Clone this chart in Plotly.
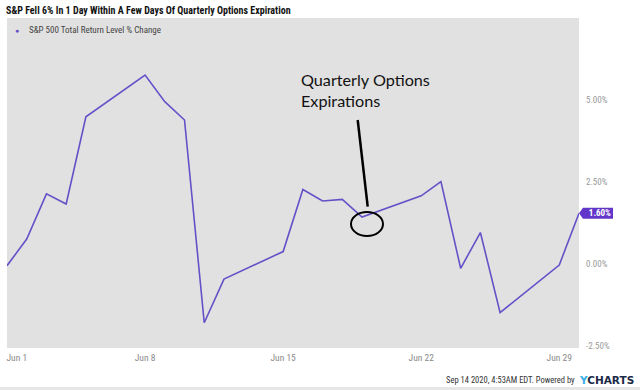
import plotly.graph_objects as go

# ---- data ----
dates = ["2020-06-01", "2020-06-02", "2020-06-03", "2020-06-04", "2020-06-05",
         "2020-06-08", "2020-06-09", "2020-06-10", "2020-06-11", "2020-06-12",
         "2020-06-15", "2020-06-16", "2020-06-17", "2020-06-18", "2020-06-19",
         "2020-06-22", "2020-06-23", "2020-06-24", "2020-06-25", "2020-06-26",
         "2020-06-29", "2020-06-30"]
pct_change = [0.00, 0.81, 2.19, 1.88, 4.54,
              5.81, 5.00, 4.44, -1.74, -0.41,
              0.43, 2.32, 1.97, 2.02, 1.48,
              2.13, 2.56, -0.08, 1.01, -1.43,
              0.02, 1.60]
series_name = "S&P 500 Total Return Level % Change"
title_text = "S&P Fell 6% In 1 Day Within A Few Days Of Quarterly Options Expiration"
x_tick_vals = ["2020-06-01 12:00", "2020-06-08", "2020-06-15", "2020-06-22", "2020-06-29"]
x_tick_text = ["Jun 1", "Jun 8", "Jun 15", "Jun 22", "Jun 29"]
y_tick_vals = [-2.5, 0.0, 2.5, 5.0]
y_tick_text = ["-2.50%", "0.00%", "2.50%", "5.00%"]
callout_text = "Quarterly Options<br>Expirations"
footer_text = "Sep 14 2020, 4:53AM EDT. Powered by"

LINE = "#6650c8"
BOX = "#6236c9"
NARROW = "Liberation Sans Narrow, Roboto Condensed, Arial Narrow, sans-serif"

fig = go.Figure()
fig.add_trace(go.Scatter(
    x=dates, y=pct_change, mode="lines", name=series_name,
    line=dict(color=LINE, width=1.6), showlegend=False,
))

fig.update_layout(
    width=640, height=390,
    margin=dict(l=7, r=61, t=18, b=42),
    paper_bgcolor="white",
    plot_bgcolor="#e1e1e1",
    title=dict(text=f"<b>{title_text}</b>", x=6/640, xref="container", xanchor="left",
               y=1 - 10/390, yref="container", yanchor="middle",
               font=dict(family=NARROW, size=10, color="#111")),
    xaxis=dict(type="date", range=["2020-06-01", "2020-06-30"],
               tickvals=x_tick_vals, ticktext=x_tick_text,
               showgrid=False, zeroline=False, showline=False, ticks="",
               ticklabelstandoff=2,
               tickfont=dict(family=NARROW, size=9.5, color="#8a8a8a")),
    yaxis=dict(side="right", range=[-2.51, 7.55],
               tickvals=y_tick_vals, ticktext=y_tick_text,
               showgrid=False, zeroline=False, showline=False, ticks="",
               ticklabelstandoff=6, ticklabelshift=-2,
               tickfont=dict(family=NARROW, size=9, color="#9a9a9a")),
)

# legend (dot + name)
fig.add_annotation(xref="paper", yref="paper", x=(17-7)/572, y=(348-30)/330,
                   text="●", showarrow=False, xanchor="center", yanchor="middle",
                   font=dict(size=7, color=LINE))
fig.add_annotation(xref="paper", yref="paper", x=(27-7)/572, y=(348-30)/330,
                   text=series_name, showarrow=False, xanchor="left", yanchor="middle",
                   font=dict(family=NARROW, size=9, color="#444"))

# last value flag
fig.add_shape(type="path", xref="paper", yref="y", xsizemode="pixel", ysizemode="pixel",
              xanchor=1, yanchor=pct_change[-1],
              path="M0,0 L4,-5.5 L34,-5.5 L34,5.5 L4,5.5 Z",
              fillcolor=BOX, line=dict(width=0), layer="above")
fig.add_annotation(xref="paper", yref="y", x=1, y=pct_change[-1],
                   text=f"<b>{pct_change[-1]:.2f}%</b>", showarrow=False,
                   xanchor="left", yanchor="middle", xshift=4, width=30, align="center",
                   font=dict(family=NARROW, size=9, color="white"))

# callout
fig.add_annotation(xref="paper", yref="paper", x=(299-7)/572, y=(348-90)/330,
                   text=callout_text, showarrow=False, xanchor="left", yanchor="middle",
                   align="left", font=dict(family="Lato, Carlito, sans-serif", size=16.2, color="#111"))
fig.add_shape(type="line", xref="paper", yref="paper",
              x0=(357.7-7)/572, y0=(348-120)/330, x1=(367.7-7)/572, y1=(348-206.7)/330,
              line=dict(color="black", width=2.5))
fig.add_shape(type="circle", xref="paper", yref="paper",
              x0=(351-7)/572, x1=(383-7)/572, y0=(348-236)/330, y1=(348-212)/330,
              line=dict(color="black", width=2))

# footer
fig.add_annotation(xref="paper", yref="paper", x=(576.5-7)/572, y=(348-380)/330,
                   text=footer_text, showarrow=False, xanchor="right", yanchor="middle",
                   font=dict(family=NARROW, size=8.5, color="#333"))
fig.add_annotation(xref="paper", yref="paper", x=(577-7)/572, y=(348-379.5)/330,
                   text="<b><span style='color:#3aaee6'>Y</span>CHARTS</b>", showarrow=False,
                   xanchor="left", yanchor="middle",
                   font=dict(family="DejaVu Sans, sans-serif", size=10.5, color="#1c2947"))
fig.add_shape(type="rect", xref="paper", yref="paper",
              x0=-7/572, x1=(640-7)/572, y0=(348-390)/330, y1=(348-387)/330,
              fillcolor="#e6e6e6", line=dict(width=0))

fig.write_html("out.html", config={"displayModeBar": False},
               post_script="document.body.style.margin='0';")
